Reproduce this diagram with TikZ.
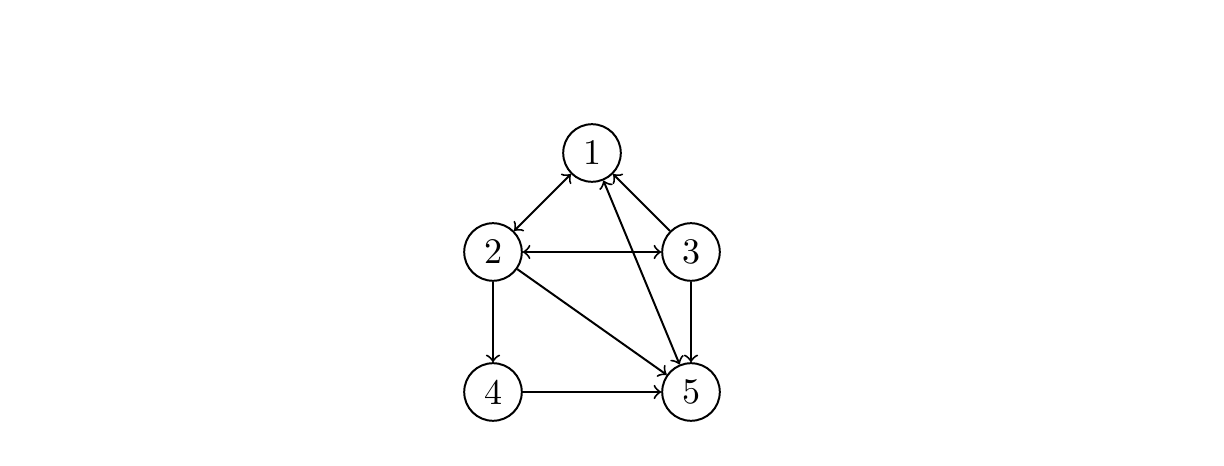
\documentclass[tikz,border=0pt]{standalone}
\begin{document}
\begin{tikzpicture}[x=0.2778pt,y=-0.2778pt,
  vtx/.style={circle,draw,line width=0.55pt,minimum size=16pt,inner sep=0pt},
  edge/.style={line width=0.55pt,->}]
\useasboundingbox (0,0) rectangle (1224,466);
\node[vtx] (n1) at (592,153) {1};
\node[vtx] (n2) at (493,252) {2};
\node[vtx] (n3) at (691,252) {3};
\node[vtx] (n4) at (493,392) {4};
\node[vtx] (n5) at (691,392) {5};
\draw[edge,<->] (n1) -- (n2);
\draw[edge,<->] (n2) -- (n3);
\draw[edge] (n3) -- (n1);
\draw[edge,<->] (n1) -- (n5);
\draw[edge] (n2) -- (n4);
\draw[edge] (n2) -- (n5);
\draw[edge] (n3) -- (n5);
\draw[edge] (n4) -- (n5);
\end{tikzpicture}
\end{document}
